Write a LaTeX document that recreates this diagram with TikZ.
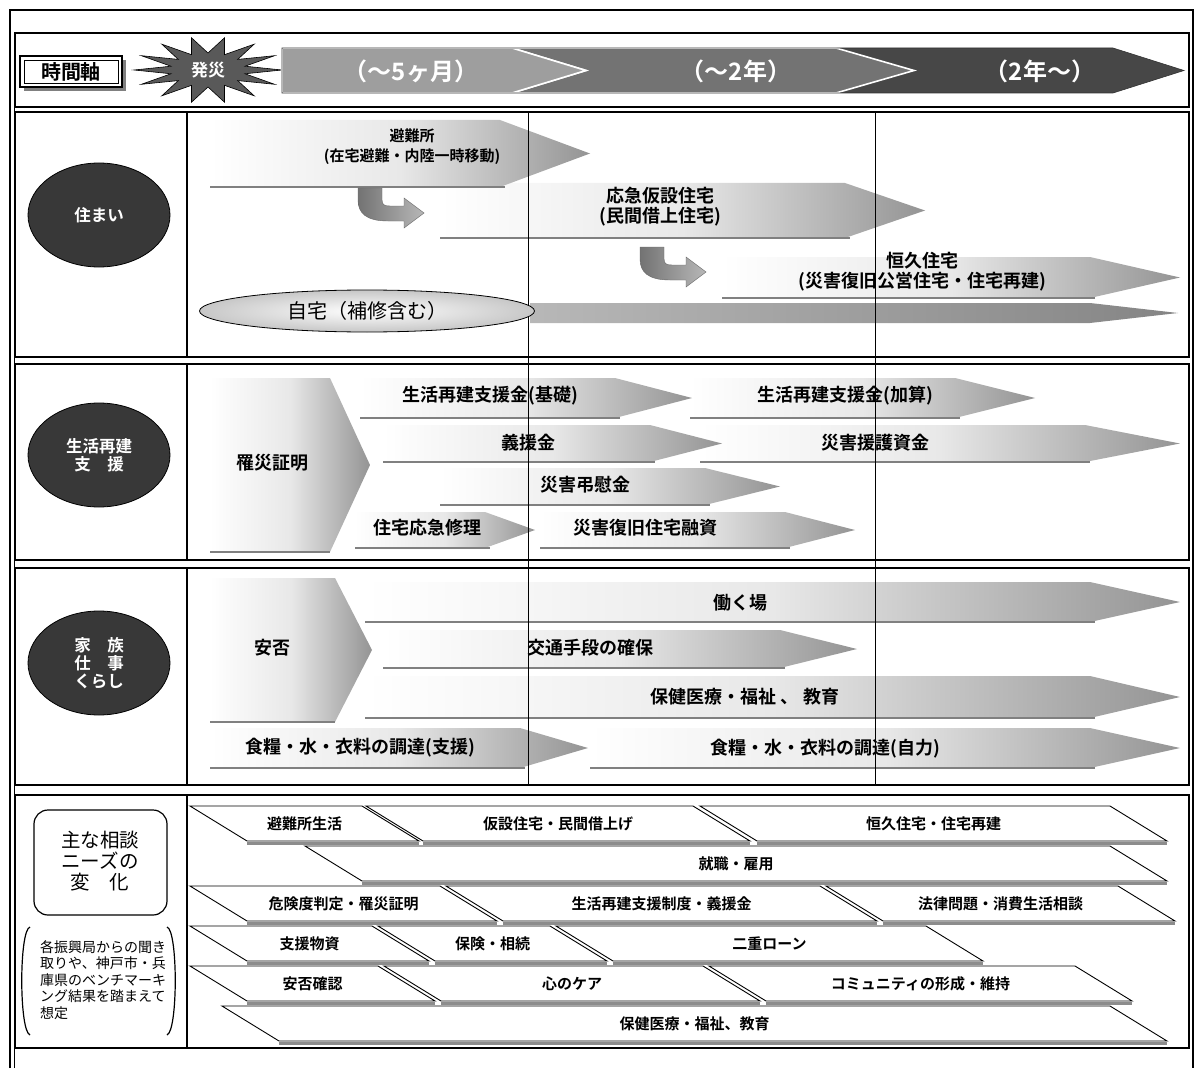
\documentclass[tikz,border=0pt]{standalone}
\usepackage{fontspec}
\setmainfont{Noto Sans CJK JP}
\IfFontExistsTF{Noto Sans CJK JP Bold}{\newfontfamily\bfjp{Noto Sans CJK JP Bold}}{\newfontfamily\bfjp{Noto Sans CJK JP}[FakeBold=2.5]}
\usetikzlibrary{shapes.geometric}
\newcommand\myfs[2]{\fontsize{#1}{#2}\selectfont}
\tikzset{
 frameline/.style={draw=black, line width=1.2pt},
 gridline/.style={draw=black, line width=0.9pt},
 fatbody/.style={left color=white, right color=black!42, middle color=black!9},
 fatshadow/.style={draw=black!50, line width=2.6pt},
 lbl/.style={inner sep=0pt, font=\myfs{18}{20}\bfjp},
 smlbl/.style={inner sep=0pt, font=\myfs{15}{20}\bfjp, align=center},
 sectoval/.style={ellipse, fill=black!78, draw=black, line width=0.8pt, minimum width=142pt, minimum height=104pt, text=white, align=center, inner sep=0pt, font=\myfs{16.5}{18}\bfjp},
 tlbl/.style={inner sep=0pt, text=white, font=\myfs{24}{26}\bfjp},
 parabox/.style={draw=black, fill=white, line width=0.9pt},
 parashadow/.style={draw=black!45, line width=2.4pt},
 plbl/.style={inner sep=0pt, font=\myfs{15}{17}\bfjp},
 bendfill/.style={left color=black!55, right color=black!28, draw=black!60, line width=0.4pt},
}
\newcommand\fatarrow[5]{%
 \path[fatbody] (#1,#4) -- (#2,#4) -- (#3,{(#4+#5)/2}) -- (#2,#5) -- (#1,#5) -- cycle;
 \draw[fatshadow] (#1,#5) -- ({#2+5},#5);
}
\newcommand\para[5]{%
 \draw[parashadow] ({#1+57},{#3+37.5}) -- ({#2+57},{#3+37.5});
 \draw[parabox] (#1,#3) -- (#2,#3) -- ({#2+57},{#3+35}) -- ({#1+57},{#3+35}) -- cycle;
 \node[plbl] (#4) at ({(#1+#2)/2+28.5},{#3+17.5}) {#5};
}
\newcommand\bendarrow[2]{%
 \begin{scope}[shift={(#1,#2)}]
 \path[bendfill] (0,0) -- (24,0) -- (24,12) .. controls (24,17) and (27,18) .. (32,18) -- (46,18) -- (46,10) -- (66,25) -- (46,40) -- (46,33) -- (30,33) .. controls (8,33) and (0,25) .. (0,12) -- cycle;
 \end{scope}}
\begin{document}
\begin{tikzpicture}[x=1pt,y=-1pt]
\useasboundingbox (0,0) rectangle (1200,1070);
% outer frame
\draw[frameline] (10,1068) -- (10,10) -- (1193,10) -- (1193,1068);
\draw[line width=0.8pt] (14,1068) -- (14,33);
\draw[frameline] (15,33) rectangle (1189,107);
% sections
\foreach \ya/\yb in {112/357, 364/560, 568/785, 795/1048}{
 \draw[frameline] (15,\ya) rectangle (1189,\yb);
 \draw[frameline] (187,\ya) -- (187,\yb);
}
% time axis label
\fill[black!50] (24,60) rectangle (126,91);
\draw[fill=white, line width=1.5pt] (20,56) rectangle (122,87);
\draw[line width=0.6pt] (24,60) rectangle (118,83);
\node[inner sep=0pt, font=\myfs{20}{22}\bfjp] (axis) at (71,71.5) {時間軸};
% starburst
\filldraw[fill=black!65, draw=black, line width=0.6pt] (282,70) \foreach \k in {0,...,13} { -- ({208+74*cos(\k*360/14)},{70+33*sin(\k*360/14)}) -- ({208+38*cos((\k+0.5)*360/14)},{70+17*sin((\k+0.5)*360/14)}) } -- cycle;
\node[inner sep=0pt, text=white, font=\myfs{17}{19}\bfjp] (hassai) at (208,70) {発災};
% timeline arrow
\fill[black!72] (836,48) -- (1113,48) -- (1184,70.5) -- (1113,93) -- (836,93) -- (914,70.5) -- cycle;
\filldraw[fill=black!55, draw=white, line width=1.6pt] (512,48) -- (836,48) -- (914,70.5) -- (836,93) -- (512,93) -- (586,70.5) -- cycle;
\filldraw[fill=black!38, draw=white, line width=1.6pt] (282,48) -- (512,48) -- (586,70.5) -- (512,93) -- (282,93) -- cycle;
\draw[black!80, line width=0.6pt] (282,48) -- (1113,48) -- (1184,70.5) -- (1113,93) -- (282,93) -- cycle;
\node[tlbl] (t1) at (411,71) {（～5ヶ月）};
\node[tlbl] (t2) at (736,71) {（～2年）};
\node[tlbl] (t3) at (1040,71) {（2年～）};
% ---- section 1 arrows
\fatarrow{722}{1090}{1180}{257}{298}
\fatarrow{440}{845}{925}{183}{238}
\fatarrow{210}{500}{590}{120}{187}
\bendarrow{358}{188}
\bendarrow{640}{247}
\path[left color=black!28, right color=black!48] (530,303) -- (1090,303) -- (1178,313) -- (1090,323) -- (530,323) -- cycle;
% ---- section 2
\path[fatbody] (210,378) -- (330,378) -- (370,465) -- (330,552) -- (210,552) -- cycle;
\draw[fatshadow] (210,552) -- (330,552);
\fatarrow{690}{955}{1035}{378}{418}
\fatarrow{360}{615}{692}{378}{418}
\fatarrow{700}{1085}{1180}{425}{462}
\fatarrow{383}{650}{722}{425}{462}
\fatarrow{440}{705}{780}{468}{505}
\fatarrow{540}{785}{855}{512}{548}
\fatarrow{355}{485}{535}{512}{548}
% ---- section 3
\path[fatbody] (210,578) -- (335,578) -- (372,650) -- (335,722) -- (210,722) -- cycle;
\draw[fatshadow] (210,722) -- (335,722);
\fatarrow{365}{1090}{1180}{582}{622}
\fatarrow{383}{780}{857}{630}{668}
\fatarrow{365}{1090}{1180}{676}{718}
\fatarrow{590}{1090}{1180}{728}{768}
\fatarrow{210}{520}{588}{728}{768}
% grid lines
\draw[gridline] (528,112) -- (528,785);
\draw[gridline] (875,112) -- (875,785);
% home ellipse
\node[ellipse, draw=black, line width=0.8pt, inner color=white, outer color=black!22, minimum width=335pt, minimum height=42pt, inner sep=0pt, font=\myfs{20}{22}] (jitaku) at (367,311) {自宅（補修含む）};
% section 1 labels
\node[smlbl] (hinan) at (412,147) {避難所\\(在宅避難・内陸一時移動)};
\node[lbl, align=center] (kasetsu) at (660,207) {応急仮設住宅\\(民間借上住宅)};
\node[lbl, align=center] (koukyu) at (922,272) {恒久住宅\\(災害復旧公営住宅・住宅再建)};
% section 2 labels
\node[lbl] (risai) at (272,463) {罹災証明};
\node[lbl] (kiso) at (490,396) {生活再建支援金(基礎)};
\node[lbl] (kasan) at (845,396) {生活再建支援金(加算)};
\node[lbl] (gienkin) at (528,443) {義援金};
\node[lbl] (engo) at (875,443) {災害援護資金};
\node[lbl] (choui) at (585,485) {災害弔慰金};
\node[lbl] (shuri) at (427,528) {住宅応急修理};
\node[lbl] (yushi) at (645,528) {災害復旧住宅融資};
% section 3 labels
\node[lbl] (anpi) at (272,648) {安否};
\node[lbl] (hataraku) at (740,603) {働く場};
\node[lbl] (koutsu) at (590,648) {交通手段の確保};
\node[lbl] (hoken) at (745,697) {保健医療・福祉 、 教育};
\node[lbl] (shien) at (360,748) {食糧・水・衣料の調達(支援)};
\node[lbl] (jiriki) at (825,749) {食糧・水・衣料の調達(自力)};
% section ovals
\node[sectoval] (sumai) at (99,215) {住まい};
\node[sectoval] (seikatsu) at (99,455) {生活再建\\支　援};
\node[sectoval] (kazoku) at (99,663) {家　族\\仕　事\\くらし};
% ---- section 4
\draw[line width=1.2pt, rounded corners=14pt] (34,810) rectangle (167,915);
\node[align=center, inner sep=0pt, font=\myfs{19.5}{21}] (needs) at (100,861) {主な相談\\ニーズの\\変　化};
\draw[line width=1.2pt] (30,927) .. controls (19,930) and (19,1031) .. (30,1035);
\draw[line width=1.2pt] (167,927) .. controls (178,930) and (178,1031) .. (167,1035);
\node[align=left, anchor=north west, inner sep=0pt, font=\myfs{14}{16.6}] (note) at (40,940) {各振興局からの聞き\\取りや、神戸市・兵\\庫県のベンチマーキ\\ング結果を踏まえて\\想定};
\para{190}{362}{806}{p11}{避難所生活}
\para{366}{693}{806}{p12}{仮設住宅・民間借上げ}
\para{700}{1110}{806}{p13}{恒久住宅・住宅再建}
\para{305}{1110}{846}{p21}{就職・雇用}
\para{190}{440}{886}{p31}{危険度判定・罹災証明}
\para{446}{820}{886}{p32}{生活再建支援制度・義援金}
\para{826}{1118}{886}{p33}{法律問題・消費生活相談}
\para{190}{372}{926}{p41}{支援物資}
\para{378}{550}{926}{p42}{保険・相続}
\para{556}{926}{926}{p43}{二重ローン}
\para{190}{378}{966}{p51}{安否確認}
\para{384}{703}{966}{p52}{心のケア}
\para{709}{1075}{966}{p53}{コミュニティの形成・維持}
\para{222}{1110}{1006}{p61}{保健医療・福祉、教育}
\end{tikzpicture}
\end{document}
